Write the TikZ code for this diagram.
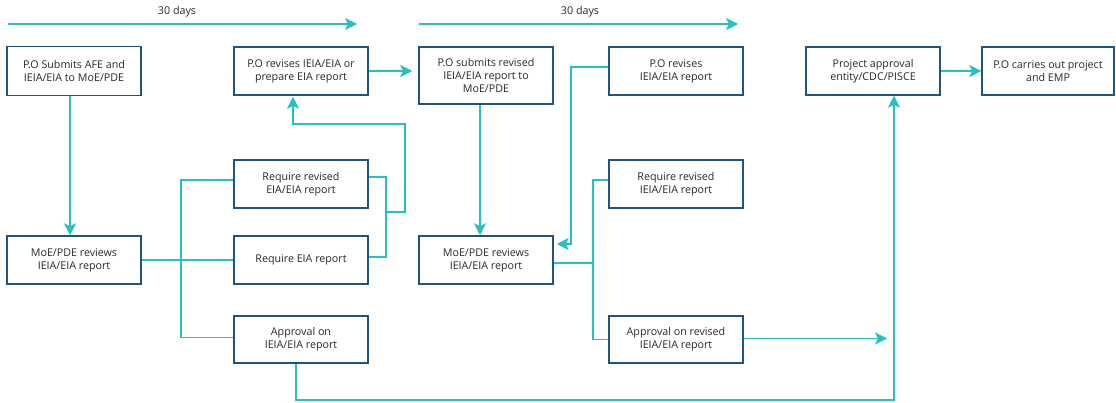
\documentclass[tikz,border=0pt]{standalone}
\usepackage{fontspec}
\setmainfont{Open Sans}
\usetikzlibrary{arrows.meta}
\definecolor{boxblue}{RGB}{30,84,128}
\definecolor{teal1}{RGB}{38,192,190}
\definecolor{txt}{RGB}{40,40,40}
\tikzset{
  stepbox/.style={draw=boxblue, line width=1.5pt, minimum width=134pt, align=center, inner sep=2pt,
    font=\fontsize{10.7}{13}\selectfont, text=txt},
  conn/.style={draw=teal1, line width=1.4pt},
  arr/.style={conn, -{Stealth[length=12pt,width=12pt,inset=3pt]}},
  lbl/.style={font=\fontsize{10.7}{13}\selectfont, text=txt}
}
\begin{document}
\begin{tikzpicture}[x=1pt,y=-1pt]
\useasboundingbox (0,0) rectangle (1116,403);
% top row
\node[stepbox, minimum height=49pt] (A) at (74,71) {P.O Submits AFE and\\IEIA/EIA to MoE/PDE};
\node[stepbox, minimum height=48pt] (B) at (301,71) {P.O revises IEIA/EIA or\\prepare EIA report};
\node[stepbox, minimum height=57pt] (C) at (486,75.5) {P.O submits revised\\IEIA/EIA report to\\MoE/PDE};
\node[stepbox, minimum height=48pt] (D) at (676,71) {P.O revises\\IEIA/EIA report};
\node[stepbox, minimum height=48pt] (E) at (873,71) {Project approval\\entity/CDC/PISCE};
\node[stepbox, minimum height=48pt, minimum width=132pt] (F) at (1048,71) {P.O carries out project\\and EMP};
% lower rows
\node[stepbox, minimum height=48pt] (G) at (74,260) {MoE/PDE reviews\\IEIA/EIA report};
\node[stepbox, minimum height=48pt] (H) at (301,184) {Require revised\\EIA/EIA report};
\node[stepbox, minimum height=48pt] (I) at (301,260) {Require EIA report};
\node[stepbox, minimum height=47pt] (J) at (301,339.5) {Approval on\\IEIA/EIA report};
\node[stepbox, minimum height=48pt] (K) at (486,260) {MoE/PDE reviews\\IEIA/EIA report};
\node[stepbox, minimum height=48pt] (L) at (676,184) {Require revised\\IEIA/EIA report};
\node[stepbox, minimum height=47pt] (M) at (676,339.5) {Approval on revised\\IEIA/EIA report};
% 30 days arrows
\coordinate (t1s) at (8,24);
\coordinate (t1e) at (357,24);
\coordinate (t2s) at (419,24);
\coordinate (t2e) at (738,24);
\draw[arr] (t1s) -- (t1e);
\draw[arr] (t2s) -- (t2e);
\node[lbl] (d1) at (177,12) {30 days};
\node[lbl] (d2) at (580,12) {30 days};
% connectors
\draw[arr] ([xshift=-4pt]A.south) -- ([xshift=-4pt]G.north);
\draw[arr, shorten >=6pt] (B.east) -- (B.east -| C.west);
\coordinate (fb) at (386,212);
\coordinate (fr) at (405,212);
\coordinate (ft) at (405,124);
\draw[conn] ([yshift=7pt]H.east) -| (fb);
\draw[conn] ([yshift=3pt]I.east) -| (fb);
\draw[arr, shorten >=1pt] (fb) -- (fr) -- (ft) -| ([xshift=-8pt]B.south);
\coordinate (lb) at (181,260);
\draw[conn] (G.east) -- (G.east -| I.west);
\draw[conn] ([yshift=4pt]H.west) -| (lb) |- ([yshift=2pt]J.west);
\coordinate (bot) at (600,400);
\draw[arr] ([xshift=-5pt]J.south) |- (bot) -| ([xshift=21pt]E.south);
\coordinate (mend) at (887,338.5);
\draw[arr] (mend -| M.east) -- (mend);
\draw[arr] ([xshift=-6pt]C.south) -- ([xshift=-6pt]K.north);
\coordinate (dk) at (571,244);
\draw[arr, shorten >=3pt] ([yshift=4pt]D.west) -| (dk) -- (dk -| K.east);
\coordinate (mb) at (593,263);
\draw[conn] (mb -| K.east) -- (mb);
\draw[conn] ([yshift=4pt]L.west) -| (mb) |- (M.west);
\draw[arr] (E.east) -- (F.west);
\end{tikzpicture}
\end{document}
